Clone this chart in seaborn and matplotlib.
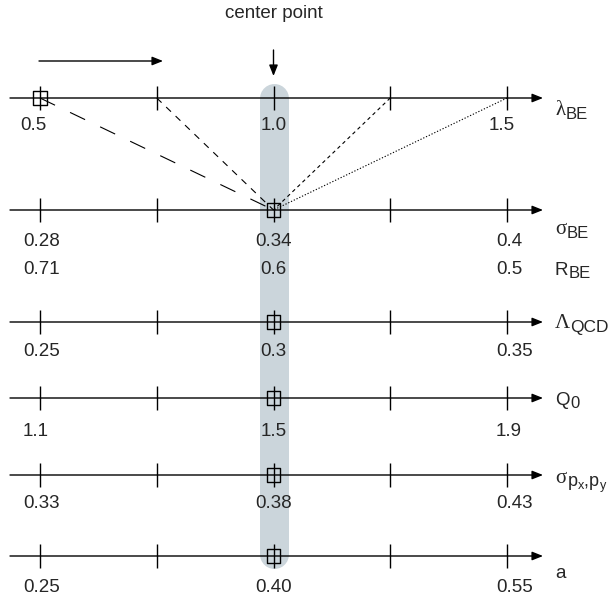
import numpy as np
import pandas as pd
import matplotlib
matplotlib.use("Agg")
import matplotlib.pyplot as plt
import seaborn as sns

# ---------------- data ----------------
param_main = ["λ", "σ", "Λ", "Q", "σ", "a"]
param_sub = ["BE", "BE", "QCD", "0", "p$_{\\mathrm{x}}$,p$_{\\mathrm{y}}$", ""]
param_greek = [True, True, True, False, True, False]
low_vals = [0.5, 0.28, 0.25, 1.1, 0.33, 0.25]
center_vals = [1.0, 0.34, 0.3, 1.5, 0.38, 0.40]
high_vals = [1.5, 0.4, 0.35, 1.9, 0.43, 0.55]
low_text = ["0.5", "0.28", "0.25", "1.1", "0.33", "0.25"]
center_text = ["1.0", "0.34", "0.3", "1.5", "0.38", "0.40"]
high_text = ["1.5", "0.4", "0.35", "1.9", "0.43", "0.55"]
rbe_main, rbe_sub = "R", "BE"
rbe_text = ["0.71", "0.6", "0.5"]
n_ticks = 5
scan_lambda = [0.5, 0.75, 1.25, 1.5]     # lambda_BE values joined to the sigma_BE centre
start_lambda = 0.5                        # lambda_BE start marker

# ---------------- layout ----------------
W, H = 614, 599
X0, X1 = 40, 507
row_y = [98, 210, 322, 398, 475, 556]
label_y = [125, 242, 352, 432, 503, 587]
rbe_y = 270
name_base = [115, 234, 328, 405, 483, 578]
rbe_base = 275
sub_size = [12, 12, 12.5, 12, 13, 12]
scan_dashes = [(12, 12), (4.8, 4.6), (2.6, 2.4), (0.9, 1.3)]

sns.set_theme(style="white")
plt.rcParams["font.family"] = ["Liberation Sans", "DejaVu Sans"]
plt.rcParams["mathtext.fontset"] = "custom"
plt.rcParams["mathtext.rm"] = "Liberation Sans"
plt.rcParams["mathtext.it"] = "Liberation Sans"
plt.rcParams["mathtext.sf"] = "Liberation Sans"
plt.rcParams["lines.scale_dashes"] = False

fig = plt.figure(figsize=(W / 100, H / 100), dpi=100)
ax = fig.add_axes([0, 0, 1, 1])


def px2u(px):
    return (px - X0) / (X1 - X0)


def norm(v, i):
    return (v - low_vals[i]) / (high_vals[i] - low_vals[i])


ax.set_xlim(px2u(0), px2u(W))
ax.set_ylim(H, 0)
ax.axis("off")

FS = 13.5
FS_GREEK = 15
band = "#cbd5db"
SERIF = ["Liberation Serif", "DejaVu Serif"]

# centre band
cu = norm(center_vals[1], 1)
ax.plot([cu, cu], [83 + 14.5, 568 - 14.5], color=band, lw=29 * 0.72,
        solid_capstyle="round", zorder=0)

arrow_kw = dict(arrowstyle="-|>,head_length=0.65,head_width=0.26", color="black",
                lw=1.0, mutation_scale=10, shrinkA=0, shrinkB=0)

# axis lines
for y in row_y:
    ax.annotate("", xy=(px2u(543), y), xytext=(px2u(10), y), arrowprops=arrow_kw, zorder=2)

# ticks
tick_u = np.linspace(0, 1, n_ticks)
ticks = pd.DataFrame([(u, y) for y in row_y for u in tick_u], columns=["u", "y"])
sns.scatterplot(data=ticks, x="u", y="y", marker="|", s=300, color="black",
                linewidth=1.0, ax=ax, zorder=3, legend=False)

# connecting lines from lambda scan points to sigma_BE centre
for v, d in zip(scan_lambda, scan_dashes):
    ax.plot([norm(v, 0), norm(center_vals[1], 1)], [row_y[0], row_y[1]],
            color="black", lw=0.8, dashes=d, zorder=2)

# markers
mk = pd.DataFrame({"u": [norm(start_lambda, 0)] + [norm(center_vals[i], i) for i in range(1, 6)],
                   "y": [row_y[0]] + row_y[1:]})
sns.scatterplot(data=mk, x="u", y="y", marker="s", s=100, color="black",
                linewidth=1.0, ax=ax, zorder=4, legend=False)
ax.collections[-1].set_facecolor("none")
ax.collections[-1].set_edgecolor("black")


def name_label(main, sub, base, greek, ssize):
    t = ax.text(px2u(555), base, main, ha="left", va="baseline",
                fontsize=FS_GREEK if greek else FS,
                family=SERIF if greek else ["Liberation Sans", "DejaVu Sans"])
    if sub:
        ax.annotate(sub, xy=(1, 0), xycoords=t, xytext=(0.3, 0.5), textcoords="offset points",
                    ha="left", va="baseline", fontsize=ssize)


# tick labels and parameter names
for i in range(6):
    lx = 20 if i == 0 else 23
    rx = 489 if i == 0 else 496
    ax.text(px2u(lx), label_y[i], low_text[i], ha="left", va="center", fontsize=FS)
    ax.text(norm(center_vals[i], i), label_y[i], center_text[i], ha="center", va="center", fontsize=FS)
    ax.text(px2u(rx), label_y[i], high_text[i], ha="left", va="center", fontsize=FS)
    name_label(param_main[i], param_sub[i], name_base[i], param_greek[i], sub_size[i])

ax.text(px2u(23), rbe_y, rbe_text[0], ha="left", va="center", fontsize=FS)
ax.text(cu, rbe_y, rbe_text[1], ha="center", va="center", fontsize=FS)
ax.text(px2u(496), rbe_y, rbe_text[2], ha="left", va="center", fontsize=FS)
name_label(rbe_main, rbe_sub, rbe_base, False, 12)

# top annotations
ax.annotate("", xy=(px2u(163), 61), xytext=(px2u(39), 61), arrowprops=arrow_kw)
ax.annotate("", xy=(cu, 76), xytext=(cu, 50), arrowprops=arrow_kw)
ax.text(cu, 18, "center point", ha="center", va="baseline", fontsize=FS)

fig.savefig("out.png", dpi=100)
